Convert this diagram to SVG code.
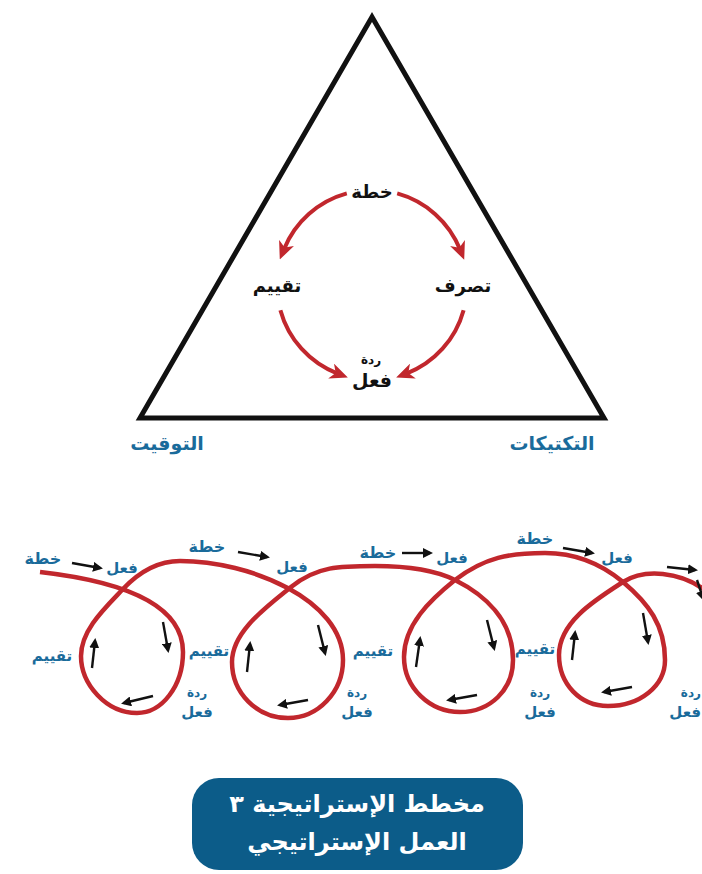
<svg xmlns="http://www.w3.org/2000/svg" width="702" height="874" viewBox="0 0 702 874">
<style>
.bk{font-family:"DejaVu Sans",sans-serif;font-weight:bold;fill:#111;text-anchor:middle}
.bl{font-family:"DejaVu Sans",sans-serif;font-weight:bold;fill:#1a6b9b;text-anchor:middle}
.wt{font-family:"DejaVu Sans",sans-serif;font-weight:bold;fill:#fff;text-anchor:middle}
.red{fill:none;stroke:#c1272d;stroke-width:4}
.sp{fill:none;stroke:#c1272d;stroke-width:4.5}
.ar{fill:none;stroke:#111;stroke-width:2.4}
</style>
<defs>
<marker id="rh" markerUnits="userSpaceOnUse" viewBox="0 0 18 16" markerWidth="18" markerHeight="16" refX="7" refY="8" orient="auto">
<path d="M0,0 L18,8 L0,16 L5,8 Z" fill="#c1272d"/>
</marker>
<marker id="bh" markerUnits="userSpaceOnUse" viewBox="0 0 10 10" markerWidth="10" markerHeight="10" refX="7" refY="5" orient="auto">
<path d="M0,0 L10,5 L0,10 Z" fill="#111"/>
</marker>
</defs>
<rect width="702" height="874" fill="#fff"/>
<g id="triangle">
<polygon points="372,17 140,418 604,418" fill="none" stroke="#111" stroke-width="5"/>
</g>
<g id="connectors">
<path class="red" d="M397.2,193.4 A95,95 0 0 1 460.1,249.6" marker-end="url(#rh)"/>
<path class="red" d="M346.8,193.4 A95,95 0 0 0 283.9,249.4" marker-end="url(#rh)"/>
<path class="red" d="M463.6,310.2 A95,95 0 0 1 406.4,373.6" marker-end="url(#rh)"/>
<path class="red" d="M280.4,310.2 A95,95 0 0 0 337.6,373.6" marker-end="url(#rh)"/>
<path class="sp" d="M40,572 C110,580 183,600 183,652 C183,686 162,713 137,713 C106,713 81,684 81,656 C81,630 105,608 123,589 C141,570 160,561 180,561 C250,561 343,600 343,660 C343,692 318,718 288,718 C257,718 232,693 232,662 C232,632 265,608 291,587 C317,566 340,566 375,566 C410,566 435,570 455,580 C485,595 513,620 513,660 C513,690 490,712 460,712 C430,712 404,688 404,657 C404,625 430,600 455,580 C485,557 510,553 545,553 C580,553 605,567 623,582 C648,603 665,625 665,660 C665,686 640,706 608,706 C580,706 559,684 559,655 C559,622 595,600 623,582 C645,568 680,572 705,590"/>
<g marker-end="url(#bh)">
<line class="ar" x1="72" y1="563" x2="100" y2="568"/>
<line class="ar" x1="163" y1="622" x2="168" y2="650"/>
<line class="ar" x1="153" y1="696" x2="124" y2="703"/>
<line class="ar" x1="92" y1="668" x2="95" y2="641"/>
<line class="ar" x1="238" y1="552" x2="267" y2="557"/>
<line class="ar" x1="318" y1="625" x2="325" y2="653"/>
<line class="ar" x1="308" y1="700" x2="280" y2="705"/>
<line class="ar" x1="247" y1="672" x2="250" y2="644"/>
<line class="ar" x1="402" y1="553" x2="430" y2="553"/>
<line class="ar" x1="487" y1="620" x2="494" y2="648"/>
<line class="ar" x1="477" y1="695" x2="449" y2="700"/>
<line class="ar" x1="416" y1="667" x2="420" y2="639"/>
<line class="ar" x1="563" y1="548" x2="592" y2="553"/>
<line class="ar" x1="643" y1="613" x2="648" y2="642"/>
<line class="ar" x1="632" y1="687" x2="604" y2="692"/>
<line class="ar" x1="572" y1="660" x2="575" y2="633"/>
<line class="ar" x1="667" y1="567" x2="695" y2="570"/>
<line class="ar" x1="697" y1="580" x2="703" y2="598"/>
</g>
</g>
<g id="cycle-labels">
<text class="bk" x="372" y="198" font-size="18">خطة</text>
<text class="bk" x="463" y="292" font-size="18">تصرف</text>
<text class="bk" x="277" y="292" font-size="18">تقييم</text>
<text class="bk" x="371" y="364" font-size="12">ردة</text>
<text class="bk" x="372" y="387" font-size="19">فعل</text>
</g>
<g id="corner-labels">
<text class="bl" x="167" y="450" font-size="19">التوقيت</text>
<text class="bl" x="552" y="450" font-size="19">التكتيكات</text>
</g>
<g id="spiral-labels">
<text class="bl" x="43" y="564" font-size="16">خطة</text>
<text class="bl" x="122" y="573" font-size="15">فعل</text>
<text class="bl" x="52" y="661" font-size="15">تقييم</text>
<text class="bl" x="207" y="552" font-size="16">خطة</text>
<text class="bl" x="292" y="572" font-size="15">فعل</text>
<text class="bl" x="209" y="656" font-size="15">تقييم</text>
<text class="bl" x="197" y="697" font-size="12">ردة</text>
<text class="bl" x="197" y="717" font-size="15">فعل</text>
<text class="bl" x="378" y="558" font-size="16">خطة</text>
<text class="bl" x="452" y="563" font-size="15">فعل</text>
<text class="bl" x="373" y="656" font-size="15">تقييم</text>
<text class="bl" x="357" y="697" font-size="12">ردة</text>
<text class="bl" x="357" y="717" font-size="15">فعل</text>
<text class="bl" x="535" y="544" font-size="16">خطة</text>
<text class="bl" x="617" y="563" font-size="15">فعل</text>
<text class="bl" x="535" y="654" font-size="15">تقييم</text>
<text class="bl" x="540" y="697" font-size="12">ردة</text>
<text class="bl" x="540" y="717" font-size="15">فعل</text>
<text class="bl" x="701" y="697" font-size="12" text-anchor="end" style="text-anchor:end">ردة</text>
<text class="bl" x="701" y="717" font-size="15" style="text-anchor:end">فعل</text>
</g>
<g id="title-box">
<rect x="192" y="778" width="331" height="92" rx="27" fill="#0c5c89"/>
<text class="wt" x="357" y="812" font-size="24">مخطط الإستراتيجية ٣</text>
<text class="wt" x="357" y="850" font-size="24">العمل الإستراتيجي</text>
</g>
</svg>
